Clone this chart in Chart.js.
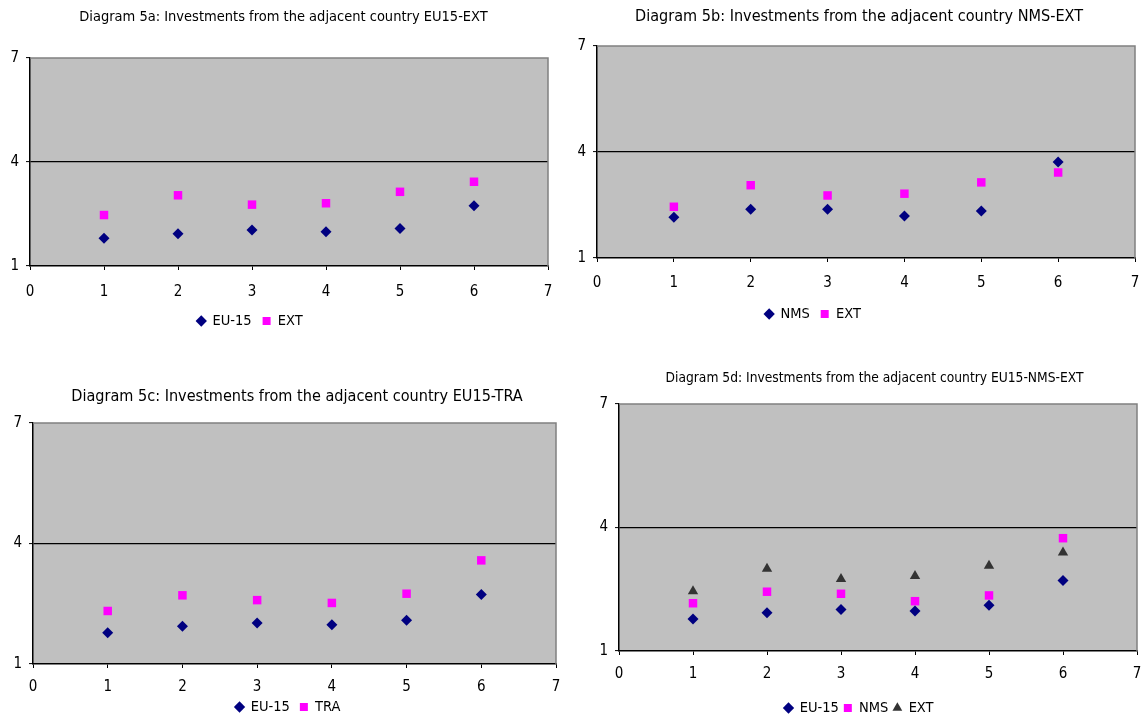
<!DOCTYPE html>
<html>
<head>
<meta charset="utf-8">
<script src="https://cdn.jsdelivr.net/npm/chart.js@4.4.1/dist/chart.umd.min.js"></script>
<style>
  html, body { margin: 0; padding: 0; background: #ffffff; overflow: hidden; width: 1143px; height: 718px; }
  canvas { position: absolute; }
</style>
</head>
<body>
<canvas id="cA"></canvas>
<canvas id="cB"></canvas>
<canvas id="cC"></canvas>
<canvas id="cD"></canvas>
<script>
// ---------------- data ----------------
const xValues = [1, 2, 3, 4, 5, 6];
const xTicks = [0, 1, 2, 3, 4, 5, 6, 7];
const yTicks = [1, 4, 7];

const titleA = 'Diagram 5a: Investments from the adjacent country EU15-EXT';
const titleB = 'Diagram 5b: Investments from the adjacent country NMS-EXT';
const titleC = 'Diagram 5c: Investments from the adjacent country EU15-TRA';
const titleD = 'Diagram 5d: Investments from the adjacent country EU15-NMS-EXT';

const aEu15 = [1.80, 1.93, 2.04, 1.99, 2.08, 2.74];
const aExt  = [2.47, 3.04, 2.77, 2.81, 3.14, 3.43];

const bNms  = [2.15, 2.38, 2.38, 2.19, 2.33, 3.72];
const bExt  = [2.45, 3.06, 2.77, 2.82, 3.14, 3.42];

const cEu15 = [1.78, 1.94, 2.02, 1.98, 2.09, 2.73];
const cTra  = [2.32, 2.71, 2.59, 2.52, 2.75, 3.58];

const dEu15 = [1.78, 1.93, 2.01, 1.97, 2.11, 2.71];
const dNms  = [2.16, 2.44, 2.39, 2.21, 2.35, 3.74];
const dExt  = [2.45, 3.00, 2.75, 2.82, 3.07, 3.39];

// ---------------- styling ----------------
const NARROW = "'Liberation Sans Narrow', 'DejaVu Sans Condensed', 'Liberation Sans', sans-serif";
const TITLEF = "'DejaVu Sans Condensed', 'Liberation Sans Narrow', sans-serif";
const NAVY = '#000080', MAGENTA = '#FF00FF', DARK = '#333333';

function pts(ys) { return ys.map((y, i) => ({ x: xValues[i], y: y })); }

function ds(label, ys, color, style, r) {
  return {
    label: label, data: pts(ys), backgroundColor: color, borderColor: color,
    pointStyle: style, pointRadius: r, pointHoverRadius: r, pointBorderWidth: 0, borderWidth: 0, showLine: false
  };
}

const plotPlugin = {
  id: 'plotBg',
  beforeDraw(chart) {
    const a = chart.chartArea, ctx = chart.ctx;
    ctx.save();
    ctx.fillStyle = '#C0C0C0';
    ctx.fillRect(a.left, a.top, a.right - a.left, a.bottom - a.top);
    ctx.restore();
  },
  beforeDatasetsDraw(chart) {
    const a = chart.chartArea, ctx = chart.ctx;
    ctx.save();
    ctx.strokeStyle = '#808080';
    ctx.lineWidth = 1.5;
    ctx.beginPath();
    ctx.moveTo(a.left, a.top);
    ctx.lineTo(a.right, a.top);
    ctx.lineTo(a.right, a.bottom);
    ctx.stroke();
    ctx.restore();
  },
  afterLayout(chart, args, opts) {
    const lg = chart.legend, tb = chart.titleBlock;
    if (lg && opts.legendX != null) {
      const dx = opts.legendX - (lg.left + lg.right) / 2;
      const dy = opts.legendY - (lg.top + opts.legPad + opts.legItem / 2);
      lg.left += dx; lg.right += dx; lg.top += dy; lg.bottom += dy;
    }
    if (tb && opts.titleX != null) {
      const dx = opts.titleX - (tb.left + tb.right) / 2;
      tb.left += dx; tb.right += dx;
    }
  }
};

function make(id, L) {
  // L: page-coordinate layout spec
  const canvas = document.getElementById(id);
  const W = L.cw;
  const tLine = L.titleSize * 1.2;
  const tickLine = L.tickSize * 1.2;
  const legItem = Math.max(L.legSize, 8);
  const legH = legItem + L.legPad + 10;
  const xH = L.tickY - L.pb + 12;
  const H = Math.round(Math.max(L.legendY + 14, L.pb + xH + legH) - L.ct);
  const padBottom = H - (L.pb - L.ct) - xH - legH;
  canvas.style.left = L.cl + 'px';
  canvas.style.top = L.ct + 'px';
  canvas.width = W; canvas.height = H;
  canvas.style.width = W + 'px'; canvas.style.height = H + 'px';

  const yW = L.pl - L.cl;
  const padR = (L.cl + W) - L.pr;
  const titlePadTop = L.titleY - L.ct - tLine / 2;
  const titlePadBottom = L.pt - (L.titleY + tLine / 2);
  const xTickPad = L.tickY - L.pb - 4 - tickLine / 2;

  return new Chart(canvas, {
    type: 'scatter',
    data: { datasets: L.datasets },
    options: {
      responsive: false,
      animation: false,
      events: [],
      layout: { padding: { left: 0, right: padR, top: 0, bottom: padBottom } },
      plugins: {
        plotBg: { legendX: L.legendX - L.cl, legendY: L.legendY - L.ct, legPad: L.legPad, legItem: legItem, titleX: L.titleX - L.cl },
        tooltip: { enabled: false },
        title: {
          display: true, text: L.title, color: '#000000',
          font: { family: TITLEF, size: L.titleSize, weight: 'normal', lineHeight: 1.2 },
          padding: { top: titlePadTop, bottom: titlePadBottom }
        },
        legend: {
          display: true, position: 'bottom',
          labels: {
            usePointStyle: true, boxWidth: 8, boxHeight: 8, padding: L.legPad, color: '#000000',
            font: { family: NARROW, size: L.legSize, lineHeight: 1.2 }
          }
        }
      },
      scales: {
        x: {
          type: 'linear', min: 0, max: 7,
          afterBuildTicks(s) { s.ticks = xTicks.map(v => ({ value: v })); },
          afterFit(s) { s.height = xH; s.paddingLeft = 0; s.paddingRight = 0; },
          ticks: { color: '#000000', autoSkip: false, maxRotation: 0, padding: xTickPad,
                   font: { family: NARROW, size: L.tickSize, lineHeight: 1.2 } },
          grid: { display: true, drawOnChartArea: false, drawTicks: true, tickLength: 4, tickColor: '#000000', tickWidth: 1 },
          border: { display: true, color: '#000000', width: 1.5 }
        },
        y: {
          type: 'linear', min: 1, max: 7,
          afterBuildTicks(s) { s.ticks = yTicks.map(v => ({ value: v })); },
          afterFit(s) { s.width = yW; s.paddingTop = 0; s.paddingBottom = 0; },
          ticks: { color: '#000000', autoSkip: false, padding: 7,
                   font: { family: NARROW, size: L.tickSize, lineHeight: 1.2 } },
          grid: {
            display: true, drawOnChartArea: true, drawTicks: true, tickLength: 4,
            tickColor: '#000000', tickWidth: 1,
            color: (c) => (c.tick && c.tick.value === 4 ? '#000000' : 'rgba(0,0,0,0)'),
            lineWidth: 1.2
          },
          border: { display: true, color: '#000000', width: 1.5 }
        }
      }
    },
    plugins: [plotPlugin]
  });
}

make('cA', {
  cl: 0, ct: 0, cw: 571,
  pl: 30, pt: 58, pr: 548, pb: 266,
  title: titleA, titleSize: 14.5, titleY: 17, titleX: 283.5,
  tickSize: 15, tickY: 292,
  legSize: 14.5, legPad: 11, legendY: 321, legendX: 250,
  datasets: [ds('EU-15', aEu15, NAVY, 'rectRot', 5.5), ds('EXT', aExt, MAGENTA, 'rect', 6)]
});

make('cB', {
  cl: 571, ct: 0, cw: 572,
  pl: 597, pt: 46, pr: 1135, pb: 258,
  title: titleB, titleSize: 16.1, titleY: 17, titleX: 859,
  tickSize: 15, tickY: 283,
  legSize: 14.5, legPad: 11, legendY: 314, legendX: 813,
  datasets: [ds('NMS', bNms, NAVY, 'rectRot', 5.5), ds('EXT', bExt, MAGENTA, 'rect', 6)]
});

make('cC', {
  cl: 0, ct: 360, cw: 571,
  pl: 33, pt: 423, pr: 556, pb: 664,
  title: titleC, titleSize: 16.1, titleY: 397, titleX: 297,
  tickSize: 15, tickY: 687,
  legSize: 14.5, legPad: 10, legendY: 707, legendX: 288,
  datasets: [ds('EU-15', cEu15, NAVY, 'rectRot', 5.5), ds('TRA', cTra, MAGENTA, 'rect', 6)]
});

make('cD', {
  cl: 571, ct: 360, cw: 572,
  pl: 619, pt: 404, pr: 1141, pb: 651,
  title: titleD, titleSize: 13.7, titleY: 378, titleX: 874.5,
  tickSize: 15, tickY: 674,
  legSize: 14.5, legPad: 5, legendY: 708, legendX: 859,
  datasets: [ds('EU-15', dEu15, NAVY, 'rectRot', 5.5), ds('NMS', dNms, MAGENTA, 'rect', 6), ds('EXT', dExt, DARK, 'triangle', 6)]
});
</script>
</body>
</html>
